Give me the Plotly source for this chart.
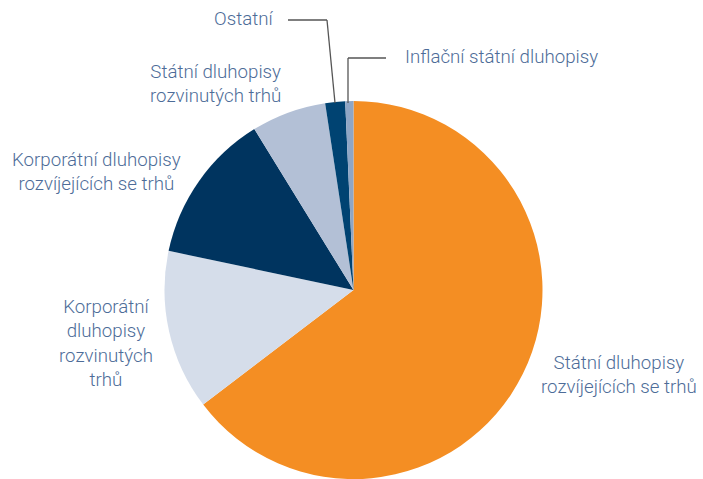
import plotly.graph_objects as go

categories = [
    "Státní dluhopisy rozvíjejících se trhů",
    "Korporátní dluhopisy rozvinutých trhů",
    "Korporátní dluhopisy rozvíjejících se trhů",
    "Státní dluhopisy rozvinutých trhů",
    "Ostatní",
    "Inflační státní dluhopisy",
]
values = [64.7, 13.7, 12.9, 6.4, 1.7, 0.7]
colors = ["#F48E23", "#D5DDEA", "#00345F", "#B3C0D6", "#004372", "#8FA6C5"]

label_texts = [
    "Státní dluhopisy<br>rozvíjejících se trhů",
    "Korporátní<br>dluhopisy<br>rozvinutých<br>trhů",
    "Korporátní dluhopisy<br>rozvíjejících se trhů",
    "Státní dluhopisy<br>rozvinutých trhů",
    "Ostatní",
    "Inflační státní dluhopisy",
]

W, H = 703, 479
cx, cy, r = 353.5, 290, 189

fig = go.Figure(go.Pie(
    labels=categories, values=values, sort=False, direction="clockwise",
    rotation=0, textinfo="none", hoverinfo="label+percent",
    marker=dict(colors=colors, line=dict(width=0)),
    domain=dict(x=[(cx - r) / W, (cx + r) / W], y=[(H - cy - r) / H, (H - cy + r) / H]),
    showlegend=False,
))

txt_color = "#4D6C98"
font = dict(family="Roboto, Liberation Sans, Arial, sans-serif", size=18.7, color=txt_color, weight=300)
pos = [
    (619, 375, "center"),
    (106, 343, "center"),
    (96, 172, "center"),
    (215, 84, "center"),
    (243, 19, "center"),
    (403, 57, "left"),
]
ann = []
for t, (x, y, al) in zip(label_texts, pos):
    ann.append(dict(text=t, x=x / W, y=1 - y / H, xref="paper", yref="paper",
                    showarrow=False, xanchor=al, yanchor="middle", align="center",
                    font=font))

def px(x, y):
    return x / W, 1 - y / H

shapes = []
lc = dict(color="#555555", width=1.3)
for (x0, y0, x1, y1) in [(288, 20, 327, 20), (327, 20, 335, 103), (348, 58, 386, 58), (348, 58, 348, 103)]:
    a, b = px(x0, y0)
    c, d = px(x1, y1)
    shapes.append(dict(type="line", xref="paper", yref="paper", x0=a, y0=b, x1=c, y1=d, line=lc))

fig.update_layout(
    width=W, height=H, margin=dict(l=0, r=0, t=0, b=0),
    paper_bgcolor="white", plot_bgcolor="white",
    annotations=ann, shapes=shapes,
)
fig.write_html("out.html", config={"displayModeBar": False},
               post_script="document.body.style.margin='0';document.body.style.overflow='hidden';")
